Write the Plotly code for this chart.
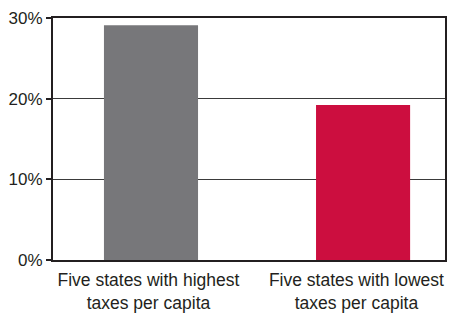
import plotly.graph_objects as go

categories = ["Five states with highest<br>taxes per capita", "Five states with lowest<br>taxes per capita"]
values = [29.1, 19.2]
colors = ["#77777a", "#cc0e3f"]
tick_vals = [0, 10, 20, 30]
tick_text = ["0%", "10%", "20%", "30%"]

# layout constants (x axis spans 0..2, one unit per category slot)
bar_pos = [0.5, 1.582]
label_pos = [0.487, 1.548]
bar_width = 0.48

fig = go.Figure(go.Bar(
    x=bar_pos, y=values, width=bar_width,
    marker=dict(color=colors, line=dict(width=0)),
    hovertext=categories,
))

FONT = "Liberation Sans, Arial, sans-serif"
# page body has an 8px default margin; figure sized to fill the rest of the window
fig.update_layout(
    template="none",
    width=450, height=309,
    margin=dict(l=45, r=13, t=10, b=57),
    plot_bgcolor="white", paper_bgcolor="white",
    font=dict(family=FONT, size=17.5, color="#231f20"),
    showlegend=False,
)
fig.update_yaxes(
    automargin=False,
    range=[0, 30], tickvals=tick_vals, ticktext=tick_text,
    showgrid=True, gridcolor="#3a3a3a", gridwidth=1,
    showline=True, linecolor="#231f20", linewidth=2, mirror=True,
    ticks="outside", ticklen=5, tickcolor="#231f20", tickwidth=1.5,
    tickfont=dict(size=17), zeroline=False, layer="below traces",
    ticklabeloverflow="allow",
)
fig.update_xaxes(
    automargin=False, tickangle=0, range=[0, 2],
    tickvals=label_pos, ticktext=categories,
    showline=True, linecolor="#231f20", linewidth=2, mirror=True,
    ticks="", tickfont=dict(size=17.5), showgrid=False, zeroline=False,
    ticklabelstandoff=3,
)

fig.write_html("out.html")
